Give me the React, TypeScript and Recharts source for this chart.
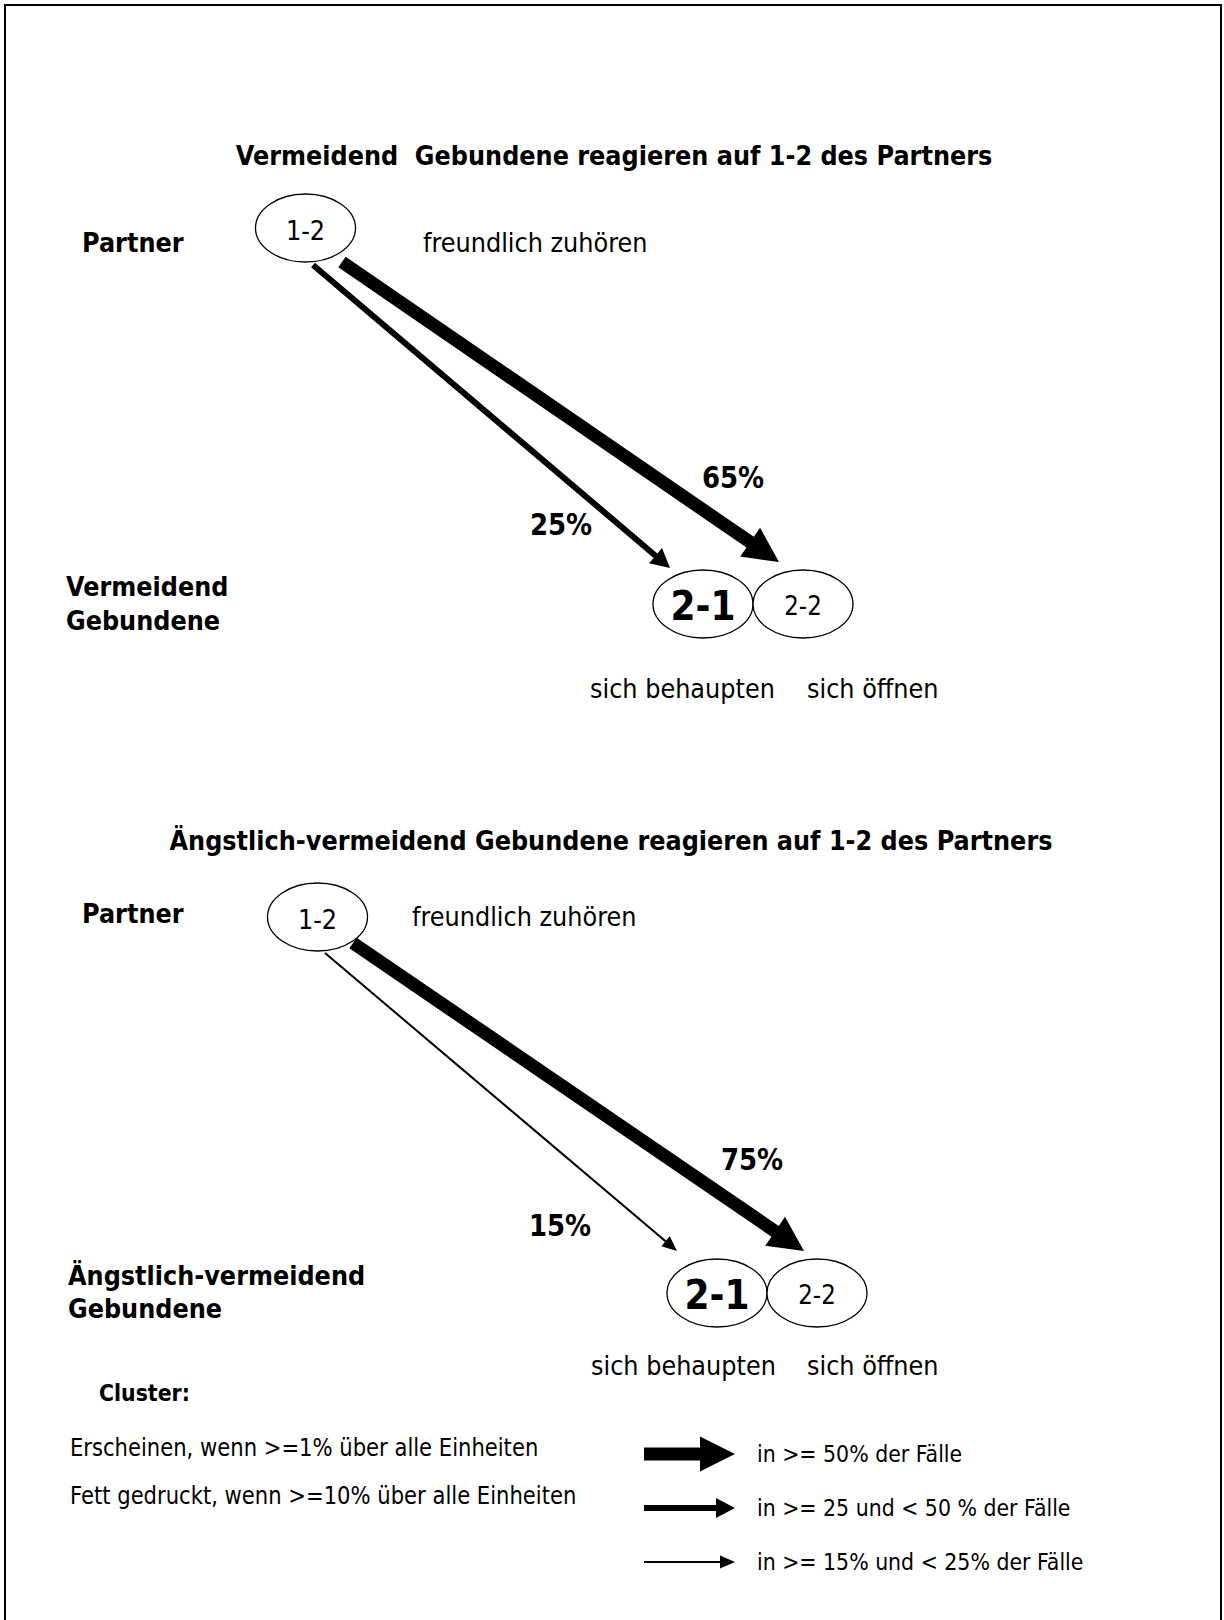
import React from 'react';
import { ScatterChart, Scatter, XAxis, YAxis, ReferenceLine } from 'recharts';

const W = 1224;
const H = 1620;
const FONT = '"DejaVu Sans", Verdana, sans-serif';
// horizontal squeeze so the Verdana-like DejaVu glyphs read like Tahoma
const SX = 0.88;

// ---- nodes (diagram coordinates) ----
const nodeLabels = ['1-2', '2-1', '2-2', '1-2', '2-1', '2-2'];
const nodeX = [305.5, 703, 803, 317.5, 717, 817];
const nodeY = [228, 604, 604, 917, 1293, 1293];
const nodeBold = [false, true, false, false, true, false];

// ---- transitions ----
const edgeFromX = [342, 313, 353, 325];
const edgeFromY = [262, 265, 943, 953];
const edgeToX = [779, 670, 804, 677];
const edgeToY = [562, 568, 1251, 1251];
const edgePct = [65, 25, 75, 15];
const edgeLabelX = [733, 561, 752, 560];
const edgeLabelY = [478, 525, 1160, 1226];

// ---- texts ----
const titleTexts = [
  'Vermeidend  Gebundene reagieren auf 1-2 des Partners',
  'Ängstlich-vermeidend Gebundene reagieren auf 1-2 des Partners',
];
const titleX = [614, 611];
const titleY = [155, 840];

const rowTexts = ['Partner', 'Vermeidend', 'Gebundene', 'Partner', 'Ängstlich-vermeidend', 'Gebundene'];
const rowX = [82, 66, 66, 82, 68, 68];
const rowY = [242, 586, 620, 913, 1275, 1308];

const plainTexts = ['freundlich zuhören', 'sich behaupten', 'sich öffnen', 'freundlich zuhören', 'sich behaupten', 'sich öffnen'];
const plainX = [423, 590, 807, 412, 591, 807];
const plainY = [242, 688, 688, 916, 1365, 1365];

const clusterTexts = ['Cluster:', 'Erscheinen, wenn >=1% über alle Einheiten', 'Fett gedruckt, wenn >=10% über alle Einheiten'];
const clusterX = [99, 70, 70];
const clusterY = [1393, 1448, 1496];

// ---- legend ----
const legendPct = [50, 25, 15];
const legendTexts = ['in >= 50% der Fälle', 'in >= 25 und < 50 % der Fälle', 'in >= 15% und < 25% der Fälle'];
const legendY = [1454, 1508, 1562];
const legendX1 = 644;
const legendX2 = 735;
const legendTextX = 757;

function weightOf(pct: number) {
  if (pct >= 50) return { w: 13, hl: 35, hw: 35 };
  if (pct >= 25) return { w: 6, hl: 19, hw: 20 };
  return { w: 2, hl: 15, hw: 13 };
}

function arrowPoints(x1: number, y1: number, x2: number, y2: number, w: number, hl: number, hw: number) {
  const dx = x2 - x1;
  const dy = y2 - y1;
  const L = Math.hypot(dx, dy) || 1;
  const ux = dx / L;
  const uy = dy / L;
  const px = -uy;
  const py = ux;
  const bx = x2 - ux * hl;
  const by = y2 - uy * hl;
  const pts = [
    [x1 + (px * w) / 2, y1 + (py * w) / 2],
    [bx + (px * w) / 2, by + (py * w) / 2],
    [bx + (px * hw) / 2, by + (py * hw) / 2],
    [x2, y2],
    [bx - (px * hw) / 2, by - (py * hw) / 2],
    [bx - (px * w) / 2, by - (py * w) / 2],
    [x1 - (px * w) / 2, y1 - (py * w) / 2],
  ];
  return pts.map((p) => `${p[0]},${p[1]}`).join(' ');
}

const makeArrowShape = (pct: number) => (props: any) => {
  const { x1, y1, x2, y2 } = props;
  if ([x1, y1, x2, y2].some((v) => typeof v !== 'number' || isNaN(v))) return <g />;
  const { w, hl, hw } = weightOf(pct);
  return <polygon points={arrowPoints(x1, y1, x2, y2, w, hl, hw)} fill="#000" stroke="none" />;
};

// data tables built from arrays
const nodeData = nodeLabels.map((label, i) => ({ x: nodeX[i], y: nodeY[i], label, bold: nodeBold[i] }));
const edgeLabelData = edgePct.map((p, i) => ({ x: edgeLabelX[i], y: edgeLabelY[i], text: `${p}%` }));
const titleData = titleTexts.map((t, i) => ({ x: titleX[i], y: titleY[i], text: t }));
const rowData = rowTexts.map((t, i) => ({ x: rowX[i], y: rowY[i], text: t }));
const plainData = plainTexts.map((t, i) => ({ x: plainX[i], y: plainY[i], text: t }));
const clusterData = clusterTexts.map((t, i) => ({ x: clusterX[i], y: clusterY[i], text: t, bold: i === 0 }));
const legendData = legendTexts.map((t, i) => ({ x: legendTextX, y: legendY[i], text: t }));

const RX = 50;
const RY = 34;

const NodeShape = (props: any) => {
  const { cx, cy, payload } = props;
  const size = payload.bold ? 36 : payload.label === '2-2' ? 23 : 24;
  return (
    <g>
      <ellipse cx={cx} cy={cy} rx={RX} ry={RY} fill="#fff" stroke="#000" strokeWidth={1.3} />
      <text
        transform={`translate(${cx},${cy + 2}) scale(${SX},1)`}
        x={0}
        y={0}
        textAnchor="middle"
        dominantBaseline="central"
        fontFamily={FONT}
        fontSize={size / SX}
        fontWeight={payload.bold ? 'bold' : 'normal'}
        fill="#000"
      >
        {payload.label}
      </text>
    </g>
  );
};

const makeTextShape = (size: number, weight: string, anchor: string) => (props: any) => {
  const { cx, cy, payload } = props;
  return (
    <text
      transform={`translate(${cx},${cy}) scale(${SX},1)`}
      x={0}
      y={0}
      textAnchor={anchor as any}
      dominantBaseline="central"
      fontFamily={FONT}
      fontSize={(payload.bold === false ? size * 1.03 : size) / SX}
      fontWeight={payload.bold === false ? 'normal' : weight}
      fill="#000"
      style={{ whiteSpace: 'pre' }}
    >
      {payload.text}
    </text>
  );
};

export default function App() {
  return (
    <div style={{ position: 'absolute', left: 0, top: 0, width: W, height: H, background: '#fff', overflow: 'hidden' }}>
      <ScatterChart width={W} height={H} margin={{ top: 0, right: 0, bottom: 0, left: 0 }}>
        <XAxis type="number" dataKey="x" domain={[0, W]} hide allowDataOverflow />
        <YAxis type="number" dataKey="y" domain={[0, H]} reversed hide allowDataOverflow />
        {edgePct.map((p, i) => (
          <ReferenceLine
            key={`e${i}`}
            segment={[
              { x: edgeFromX[i], y: edgeFromY[i] },
              { x: edgeToX[i], y: edgeToY[i] },
            ]}
            shape={makeArrowShape(p)}
            ifOverflow="visible"
          />
        ))}
        {legendPct.map((p, i) => (
          <ReferenceLine
            key={`l${i}`}
            segment={[
              { x: legendX1, y: legendY[i] },
              { x: legendX2, y: legendY[i] },
            ]}
            shape={makeArrowShape(p)}
            ifOverflow="visible"
          />
        ))}
        <Scatter data={nodeData} shape={NodeShape} isAnimationActive={false} />
        <Scatter data={edgeLabelData} shape={makeTextShape(26, 'bold', 'middle')} isAnimationActive={false} />
        <Scatter data={titleData} shape={makeTextShape(24, 'bold', 'middle')} isAnimationActive={false} />
        <Scatter data={rowData} shape={makeTextShape(24, 'bold', 'start')} isAnimationActive={false} />
        <Scatter data={plainData} shape={makeTextShape(24, 'normal', 'start')} isAnimationActive={false} />
        <Scatter data={clusterData} shape={makeTextShape(20.5, 'bold', 'start')} isAnimationActive={false} />
        <Scatter data={legendData} shape={makeTextShape(20.5, 'normal', 'start')} isAnimationActive={false} />
      </ScatterChart>
      <div
        style={{
          position: 'absolute',
          left: 4,
          top: 4,
          width: 1218,
          height: 1660,
          boxSizing: 'border-box',
          border: '2px solid #000',
          pointerEvents: 'none',
        }}
      />
    </div>
  );
}
